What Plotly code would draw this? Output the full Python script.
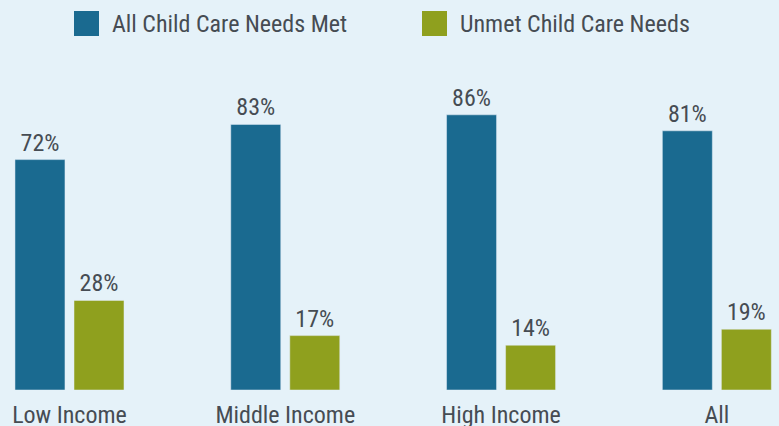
import plotly.graph_objects as go

groups = ["Low Income", "Middle Income", "High Income", "All"]
met = [72, 83, 86, 81]
unmet = [28, 17, 14, 19]
series_names = ["All Child Care Needs Met", "Unmet Child Care Needs"]

BLUE = "#1a6a90"
OLIVE = "#8fa01e"
BG = "#e5f2f9"
TEXT = "#464c53"
FONT = "Roboto Condensed, DejaVu Sans Condensed, Liberation Sans Narrow, Roboto, sans-serif"

W, H = 779, 426
L, R, T, B = 0, 0, 70, 36
plot_h = H - T - B


def px_x(x):
    return (x - L) / (W - L - R)


def px_y(y):
    return (H - B - y) / plot_h


fig = go.Figure()
for name, vals, color in [(series_names[0], met, BLUE), (series_names[1], unmet, OLIVE)]:
    fig.add_trace(go.Bar(
        x=groups,
        y=vals,
        name=name,
        marker_color=color,
        text=[f"{v}%" for v in vals],
        textposition="outside",
        textfont=dict(family=FONT, size=24, color=TEXT),
        cliponaxis=False,
        showlegend=False,
    ))

# legend drawn by hand so the swatches match the big squares of the original
legend = [(74, 99, 110, series_names[0], BLUE), (422, 447, 458, series_names[1], OLIVE)]
for x0, x1, tx, label, color in legend:
    fig.add_shape(type="rect", xref="paper", yref="paper",
                  x0=px_x(x0), x1=px_x(x1), y0=px_y(36), y1=px_y(11),
                  fillcolor=color, line_width=0)
    fig.add_annotation(xref="paper", yref="paper", x=px_x(tx), y=px_y(24),
                       xanchor="left", yanchor="middle", showarrow=False,
                       text=label, font=dict(family=FONT, size=24, color=TEXT))

fig.update_layout(
    width=W,
    height=H,
    barmode="group",
    bargap=0.453,
    bargroupgap=0.153,
    paper_bgcolor=BG,
    plot_bgcolor=BG,
    margin=dict(l=L, r=R, t=T, b=B, pad=0),
)
fig.update_xaxes(range=[-0.322, 3.288], showgrid=False, zeroline=False, showline=False,
                 ticks="", ticklabelstandoff=8, automargin=False,
                 tickfont=dict(family=FONT, size=24, color=TEXT))
fig.update_yaxes(range=[0, 100], visible=False, automargin=False)

fig.write_html("out.html", config={"displayModeBar": False},
               post_script="document.body.style.margin='0';")
